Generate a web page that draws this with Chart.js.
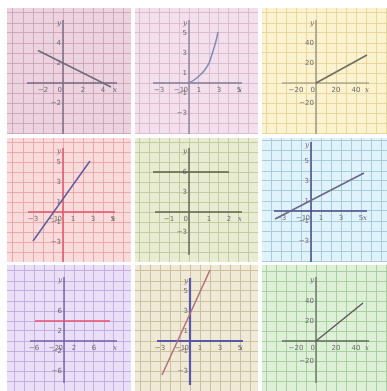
<!DOCTYPE html>
<html>
<head>
<meta charset="utf-8">
<script src="https://cdn.jsdelivr.net/npm/chart.js@4/dist/chart.umd.min.js"></script>
<style>
  html, body { margin: 0; padding: 0; background: #ffffff; }
  #wrap { position: relative; width: 387px; height: 391px; overflow: hidden; filter: blur(0.45px); }
  canvas { position: absolute; display: block; }
</style>
</head>
<body>
<div id="wrap"></div>
<script>
// ---------- DATA ----------
// Panel 1: falling straight line
const p1X = [-2.5, 4.8];
const p1Y = [3.25, -0.4];
const p1XTicks = [-2, 2, 4];
const p1YTicks = [4, 2, -2];

// Panel 2: rising curve from the origin
const p2X = [0, 0.5, 1, 1.5, 2, 2.4, 2.7, 2.9];
const p2Y = [0, 0.3, 0.7, 1.2, 2.0, 3.2, 4.2, 5.1];
const p2XTicks = [-3, -1, 1, 3, 5];
const p2YTicks = [5, 3, 1, -1, -3];

// Panel 3: ray from the origin
const p3X = [0, 51];
const p3Y = [0, 28];
const p3XTicks = [-20, 20, 40];
const p3YTicks = [40, 20, -20];

// Panel 4: steep rising line
const p4X = [-3, 2.7];
const p4Y = [-2.9, 5.1];
const p4XTicks = [-3, -1, 1, 3, 5];
const p4YTicks = [5, 3, 1, -1, -3];

// Panel 5: horizontal line y = 6
const p5X = [-1.8, 2.0];
const p5Y = [6, 6];
const p5XTicks = [-1, 1, 2];
const p5YTicks = [6, 3, -3];

// Panel 6: gentle rising line
const p6X = [-3.6, 5.3];
const p6Y = [-0.8, 3.8];
const p6XTicks = [-3, -1, 1, 3, 5];
const p6YTicks = [5, 3, 1, -1, -3];

// Panel 7: horizontal line y = 4
const p7X = [-5.8, 9.2];
const p7Y = [4, 4];
const p7XTicks = [-6, -2, 2, 6];
const p7YTicks = [6, 2, -2, -6];

// Panel 8: very steep rising line
const p8X = [-2.8, 2.0];
const p8Y = [-3.4, 7.1];
const p8XTicks = [-3, -1, 1, 3, 5];
const p8YTicks = [5, 3, 1, -1, -3];

// Panel 9: ray from the origin
const p9X = [0, 47];
const p9Y = [0, 38];
const p9XTicks = [-20, 20, 40];
const p9YTicks = [40, 20, -20];

// ---------- LAYOUT / STYLE ----------
// frame: left, top, width, height (px)
const frames = [
  [7, 8, 124, 126], [135, 8, 123, 126], [262, 8, 125, 126],
  [7, 138, 124, 124], [135, 138, 123, 124], [262, 138, 125, 124],
  [7, 265, 124, 126], [135, 265, 123, 126], [262, 265, 125, 126]
];
// axis ranges in grid cells: xmin, xmax, ymin, ymax ; step = value of one grid cell
const views = [
  {xr: [-5.6, 6.8], yr: [-5.1, 7.5], sx: 1, sy: 1, ax: [-3.6, 5.4], ay: [-5.1, 6.3]},
  {xr: [-5.4, 6.9], yr: [-5.1, 7.5], sx: 1, sy: 1, ax: [-3.6, 5.3], ay: [-5.1, 6.3]},
  {xr: [-5.4, 7.1], yr: [-5.1, 7.5], sx: 10, sy: 10, ax: [-3.4, 5.3], ay: [-5.1, 6.3]},
  {xr: [-5.6, 6.8], yr: [-5.0, 7.4], sx: 1, sy: 1, ax: [-3.5, 5.2], ay: [-5.0, 6.4]},
  {xr: [-5.4, 6.9], yr: [-5.0, 7.4], sx: 0.5, sy: 1.5, ax: [-3.4, 5.3], ay: [-4.3, 6.4]},
  {xr: [-4.9, 7.6], yr: [-5.1, 7.3], sx: 1, sy: 1, ax: [-3.7, 5.6], ay: [-5.1, 6.9]},
  {xr: [-5.7, 6.7], yr: [-5.0, 7.6], sx: 2, sy: 2, ax: [-3.4, 5.3], ay: [-4.2, 6.4]},
  {xr: [-5.5, 6.8], yr: [-5.0, 7.6], sx: 1, sy: 1, ax: [-3.3, 5.3], ay: [-4.4, 6.3]},
  {xr: [-5.4, 7.1], yr: [-5.0, 7.6], sx: 10, sy: 10, ax: [-3.4, 5.3], ay: [-4.2, 6.4]}
];
const styles = [
  {bg: '#ecd3df', grid: '#cfa8bb', axis: '#7a6a82', line: '#6e6a78', axisW: 1.4},
  {bg: '#f3e0ec', grid: '#dabdd0', axis: '#857c96', line: '#7f8db0', axisW: 1.3},
  {bg: '#fbf2cf', grid: '#e8d69e', axis: '#8a8878', line: '#6f6c60', axisW: 1.2},
  {bg: '#fadbdc', grid: '#eba9ad', axis: '#e0566e', line: '#5e5c9c', axisW: 1.5},
  {bg: '#e8ecd2', grid: '#c4cba0', axis: '#5f6450', line: '#58613f', axisW: 1.4},
  {bg: '#e0f2fa', grid: '#a9cbdc', axis: '#4a4a88', line: '#6b6488', axisW: 1.5},
  {bg: '#ebdff7', grid: '#c3afe3', axis: '#7262a8', line: '#e8506e', axisW: 1.4},
  {bg: '#efe9d5', grid: '#cbc1a3', axis: '#5858a8', line: '#b07080', axisW: 2.2},
  {bg: '#dff0d8', grid: '#a8d0a0', axis: '#5f6e5c', line: '#5c5c5c', axisW: 1.3}
];

const series = [
  [p1X, p1Y, p1XTicks, p1YTicks], [p2X, p2Y, p2XTicks, p2YTicks], [p3X, p3Y, p3XTicks, p3YTicks],
  [p4X, p4Y, p4XTicks, p4YTicks], [p5X, p5Y, p5XTicks, p5YTicks], [p6X, p6Y, p6XTicks, p6YTicks],
  [p7X, p7Y, p7XTicks, p7YTicks], [p8X, p8Y, p8XTicks, p8YTicks], [p9X, p9Y, p9XTicks, p9YTicks]
];

const mathAxes = {
  id: 'mathAxes',
  beforeDatasetsDraw(chart, args, o) {
    const {ctx} = chart;
    const xs = chart.scales.x, ys = chart.scales.y;
    const x0 = xs.getPixelForValue(0), y0 = ys.getPixelForValue(0);
    const xa = o.ax.map(v => xs.getPixelForValue(v * o.sx));
    const ya = o.ay.map(v => ys.getPixelForValue(v * o.sy));
    ctx.save();
    ctx.strokeStyle = o.axis;
    ctx.lineWidth = o.axisW;
    ctx.beginPath();
    ctx.moveTo(xa[0], y0); ctx.lineTo(xa[1], y0);
    ctx.moveTo(x0, ya[0]); ctx.lineTo(x0, ya[1]);
    ctx.stroke();

    ctx.fillStyle = '#6a6a6a';
    ctx.font = '7px "DejaVu Sans"';
    ctx.textBaseline = 'middle';
    ctx.textAlign = 'center';
    o.xTicks.forEach(v => ctx.fillText(String(v).replace('-', '\u2212'), xs.getPixelForValue(v), y0 + 7));
    ctx.textAlign = 'right';
    o.yTicks.forEach(v => ctx.fillText(String(v).replace('-', '\u2212'), x0 - 2, ys.getPixelForValue(v)));
    ctx.fillText('0', x0 - 1, y0 + 7);
    ctx.font = 'italic 7px "DejaVu Serif"';
    ctx.textAlign = 'center';
    ctx.fillText('x', xa[1] - 2, y0 + 7);
    ctx.fillText('y', x0 - 4, ya[1] + 3);
    ctx.restore();
  }
};

const wrap = document.getElementById('wrap');
frames.forEach((f, i) => {
  const cv = document.createElement('canvas');
  cv.width = f[2]; cv.height = f[3];
  cv.style.left = f[0] + 'px'; cv.style.top = f[1] + 'px';
  cv.style.width = f[2] + 'px'; cv.style.height = f[3] + 'px';
  cv.style.background = styles[i].bg;
  wrap.appendChild(cv);

  const v = views[i], s = styles[i], d = series[i];
  const pts = d[0].map((x, k) => ({x: x, y: d[1][k]}));
  const intTicks = (step) => (scale) => {
    const out = [];
    const a = Math.ceil(scale.min / step - 1e-9), b = Math.floor(scale.max / step + 1e-9);
    for (let k = a; k <= b; k++) out.push({value: k * step});
    scale.ticks = out;
  };
  new Chart(cv, {
    type: 'scatter',
    data: {datasets: [{
      data: pts, showLine: true, borderColor: s.line, borderWidth: 1.5,
      pointRadius: 0, tension: d[0].length > 2 ? 0.4 : 0, fill: false
    }]},
    options: {
      responsive: false, animation: false, devicePixelRatio: 1,
      layout: {padding: 0},
      plugins: {legend: {display: false}, tooltip: {enabled: false},
        mathAxes: {ax: v.ax, ay: v.ay, sx: v.sx, sy: v.sy, axis: s.axis, axisW: s.axisW,
                   xTicks: d[2], yTicks: d[3]}},
      scales: {
        x: {type: 'linear', min: v.xr[0] * v.sx, max: v.xr[1] * v.sx,
            afterBuildTicks: intTicks(v.sx),
            ticks: {display: false}, border: {display: false},
            grid: {color: s.grid, lineWidth: 1, drawTicks: false}},
        y: {type: 'linear', min: v.yr[0] * v.sy, max: v.yr[1] * v.sy,
            afterBuildTicks: intTicks(v.sy),
            ticks: {display: false}, border: {display: false},
            grid: {color: s.grid, lineWidth: 1, drawTicks: false}}
      }
    },
    plugins: [mathAxes]
  });
});
</script>
</body>
</html>
